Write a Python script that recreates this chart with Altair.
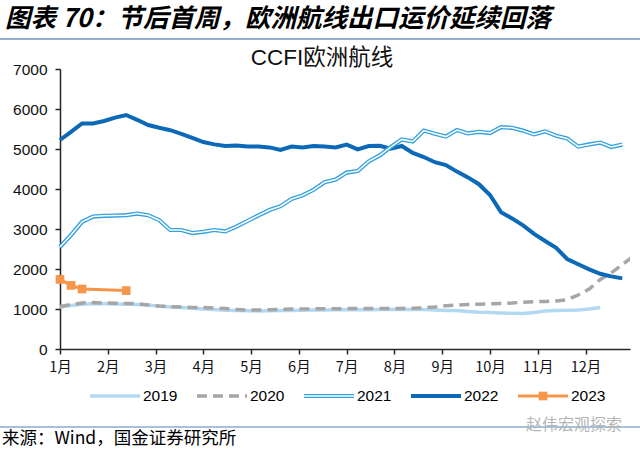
import altair as alt
import pandas as pd

# Weekly CCFI Europe route index, one list per year (week 0 = first week of January)
y2019 = [1040, 1090, 1120, 1130, 1130, 1125, 1120, 1115, 1100, 1070,
         1050, 1035, 1020, 1000, 985, 970, 960, 955, 950, 955,
         960, 965, 970, 975, 975, 980, 980, 980, 980, 985,
         985, 985, 990, 985, 975, 965, 960, 940, 920, 910,
         900, 895, 890, 910, 950, 965, 970, 975, 1000, 1040]
y2020 = [1060, 1110, 1150, 1160, 1150, 1145, 1140, 1135, 1100, 1075,
         1060, 1050, 1040, 1035, 1025, 1010, 990, 975, 975, 980,
         990, 1000, 1000, 1005, 1005, 1005, 1010, 1010, 1010, 1010,
         1010, 1015, 1020, 1030, 1050, 1080, 1100, 1110, 1120, 1130,
         1140, 1150, 1170, 1180, 1190, 1200, 1230, 1350, 1500, 1740,
         1900, 2110, 2320]
y2021 = [2550, 2850, 3180, 3310, 3330, 3335, 3345, 3385, 3345, 3220,
         2975, 2975, 2900, 2930, 2975, 2940, 3060, 3200, 3340, 3475,
         3570, 3750, 3840, 3980, 4170, 4235, 4410, 4450, 4690, 4840,
         5050, 5240, 5190, 5460, 5380, 5310, 5475, 5390, 5430, 5400,
         5545, 5530, 5460, 5365, 5440, 5330, 5265, 5060, 5115, 5160,
         5050, 5110]
y2022 = [5225, 5430, 5640, 5640, 5700, 5785, 5850, 5730, 5600, 5530,
         5470, 5380, 5280, 5175, 5115, 5075, 5085, 5060, 5060, 5040,
         4975, 5060, 5035, 5075, 5060, 5040, 5110, 4990, 5075, 5080,
         5010, 5075, 4900, 4800, 4670, 4600, 4435, 4290, 4120, 3850,
         3420, 3265, 3090, 2880, 2700, 2530, 2250, 2120, 1990, 1880,
         1815, 1765]
weeks2023 = [0, 1, 2, 6]
y2023 = [1740, 1590, 1500, 1460]

years = ["2019", "2020", "2021", "2022", "2023"]
colors = {"2019": "#B3D9F2", "2020": "#A6A6A6", "2021": "#35A2DE",
          "2022": "#0B69B8", "2023": "#F5964B"}

rows = []
for yr, vals in (("2019", y2019), ("2020", y2020), ("2021", y2021), ("2022", y2022)):
    rows += [{"year": yr, "week": i, "value": v} for i, v in enumerate(vals)]
rows += [{"year": "2023", "week": w, "value": v} for w, v in zip(weeks2023, y2023)]
df = pd.DataFrame(rows)

month_ticks = [m * 52 / 12 for m in range(12)]

LATIN = "'Liberation Sans', 'Noto Sans CJK SC', sans-serif"
CJK = "'Noto Sans CJK SC', sans-serif"

x_enc = alt.X("week:Q",
              scale=alt.Scale(domain=[0, 51.7], nice=False, zero=False),
              axis=alt.Axis(values=month_ticks, title=None, grid=False,
                            labelExpr="(round(datum.value * 12 / 52) + 1) + '月'",
                            labelFont=CJK, labelFontSize=14.5, labelPadding=6,
                            labelFlush=False))
y_enc = alt.Y("value:Q",
              scale=alt.Scale(domain=[0, 7000], nice=False),
              axis=alt.Axis(values=list(range(0, 7001, 1000)), format="d",
                            title=None, grid=False, labelFont=LATIN,
                            labelFontSize=15.5, labelPadding=8))

base = alt.Chart(df).encode(x=x_enc, y=y_enc)


def series(yr):
    return base.transform_filter(alt.datum.year == yr)


l2019 = series("2019").mark_line(color=colors["2019"], strokeWidth=3.5)
l2020 = series("2020").mark_line(color=colors["2020"], strokeWidth=3.5,
                                 strokeDash=[10, 6], clip=True)
l2022 = series("2022").mark_line(color=colors["2022"], strokeWidth=4)
# double-line style: wide blue stroke with a thin white core
l2021a = series("2021").mark_line(color=colors["2021"], strokeWidth=4.2)
l2021b = series("2021").mark_line(color="white", strokeWidth=1.5)
l2023 = series("2023").mark_line(color=colors["2023"], strokeWidth=3)
p2023 = series("2023").mark_square(color=colors["2023"], size=75, opacity=1)


def label(text, x, y, size, font, color="black", align="left", weight="normal",
          style="normal", baseline="middle"):
    return alt.Chart(pd.DataFrame({"t": [text]})).mark_text(
        align=align, baseline=baseline, fontSize=size, font=font, color=color,
        fontWeight=weight, fontStyle=style
    ).encode(text="t:N", x=alt.value(x), y=alt.value(y))


def hline(x1, x2, y, color, width, dash=None):
    kw = dict(color=color, strokeWidth=width)
    if dash:
        kw["strokeDash"] = dash
    return alt.Chart(pd.DataFrame({"a": [0]})).mark_rule(**kw).encode(
        x=alt.value(x1), x2=alt.value(x2), y=alt.value(y))


# page furniture (plot origin sits at 60, 69 on the page)
header = label("图表 70：节后首周，欧洲航线出口运价延续回落", -55, -50, 25.5, CJK,
               weight="bold", style="italic")
header_rule = hline(-60, 580, -30, "#93AECB", 2)
title = label("CCFI欧洲航线", 262, -4, 22.5, LATIN, color="#111111",
              align="center", baseline="alphabetic")
footer_rule = hline(-60, 580, 358, "#4F81BD", 1.2)
source = label("来源：Wind，国金证券研究所", -58, 370, 17.5, CJK)
mark_wm = label("赵伟宏观探索", 466, 356, 16, CJK, color="#B5B5B5")

# legend row
leg_y = 327
legend_layers = []
for i, yr in enumerate(years):
    x0 = 30 + i * 107
    x1 = x0 + 50
    if yr == "2020":
        legend_layers.append(hline(x0, x1, leg_y, colors[yr], 3.5, [10, 6]))
    elif yr == "2021":
        legend_layers.append(hline(x0, x1, leg_y, colors[yr], 4.2))
        legend_layers.append(hline(x0, x1, leg_y, "white", 1.5))
    elif yr == "2022":
        legend_layers.append(hline(x0, x1, leg_y, colors[yr], 4))
    elif yr == "2023":
        legend_layers.append(hline(x0, x1, leg_y, colors[yr], 3))
        legend_layers.append(
            alt.Chart(pd.DataFrame({"a": [0]})).mark_square(
                color=colors[yr], size=75, opacity=1
            ).encode(x=alt.value((x0 + x1) / 2), y=alt.value(leg_y)))
    else:
        legend_layers.append(hline(x0, x1, leg_y, colors[yr], 3.5))
    legend_layers.append(label(yr, x1 + 3, leg_y, 15.5, LATIN))

chart = alt.layer(
    l2019, l2020, l2022, l2021a, l2021b, l2023, p2023,
    header, header_rule, title, footer_rule, source, mark_wm,
    *legend_layers
).properties(
    width=570, height=280,
    autosize=alt.AutoSizeParams(type="none"),
    padding={"left": 60, "top": 69, "right": 10, "bottom": 102},
    background="white",
).configure_view(stroke=None).configure_axis(
    domainColor="#262626", domainWidth=1.5, tickColor="#262626",
    tickWidth=1.5, tickSize=5, labelColor="#111111"
)

chart.save("out.html", embed_options={"renderer": "svg", "actions": False})
